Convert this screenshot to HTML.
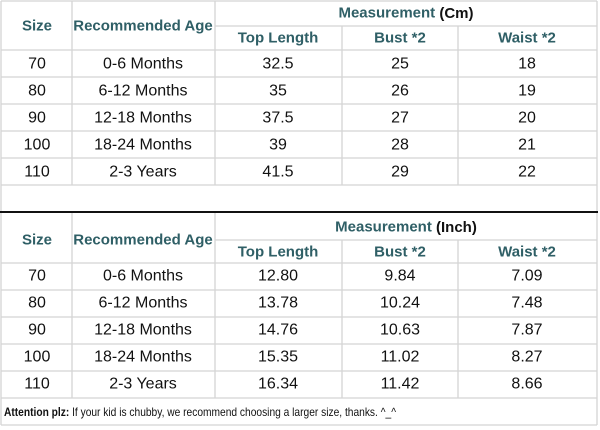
<!DOCTYPE html>
<html><head><style>
html,body{margin:0;padding:0;background:#fff;}
svg{display:block;}
text{font-family:"Liberation Sans",sans-serif;font-size:16px;text-anchor:middle;dominant-baseline:central;fill:#111;}
.h{fill:#2f5f66;font-weight:bold;font-size:15px;}
</style></head><body>
<svg width="600" height="430" viewBox="0 0 600 430">
<g stroke="#d4d4d4" stroke-width="1.3" fill="none">
<line x1="1" y1="1" x2="597" y2="1"/>
<line x1="1" y1="1" x2="1" y2="212"/>
<line x1="597" y1="1" x2="597" y2="212"/>
<line x1="72" y1="1" x2="72" y2="185"/>
<line x1="215" y1="1" x2="215" y2="185"/>
<line x1="342" y1="26" x2="342" y2="185"/>
<line x1="458" y1="26" x2="458" y2="185"/>
<line x1="215" y1="26" x2="597" y2="26"/>
<line x1="1" y1="50" x2="597" y2="50"/>
<line x1="1" y1="77" x2="597" y2="77"/>
<line x1="1" y1="104" x2="597" y2="104"/>
<line x1="1" y1="131" x2="597" y2="131"/>
<line x1="1" y1="158" x2="597" y2="158"/>
<line x1="1" y1="185" x2="597" y2="185"/>
<line x1="1" y1="212" x2="1" y2="425"/>
<line x1="597" y1="212" x2="597" y2="425"/>
<line x1="72" y1="212" x2="72" y2="398"/>
<line x1="215" y1="212" x2="215" y2="398"/>
<line x1="342" y1="240" x2="342" y2="398"/>
<line x1="458" y1="240" x2="458" y2="398"/>
<line x1="215" y1="240" x2="597" y2="240"/>
<line x1="1" y1="263" x2="597" y2="263"/>
<line x1="1" y1="290" x2="597" y2="290"/>
<line x1="1" y1="317" x2="597" y2="317"/>
<line x1="1" y1="344" x2="597" y2="344"/>
<line x1="1" y1="371" x2="597" y2="371"/>
<line x1="1" y1="398" x2="597" y2="398"/>
<line x1="1" y1="425" x2="597" y2="425"/>
</g>
<line x1="0" y1="212" x2="598" y2="212" stroke="#111" stroke-width="2"/>

<text class="h" x="37" y="26">Size</text>
<text class="h" x="143" y="26">Recommended Age</text>
<text class="h" x="406" y="13">Measurement <tspan fill="#111">(Cm)</tspan></text>
<text class="h" x="278" y="38">Top Length</text>
<text class="h" x="400" y="38">Bust *2</text>
<text class="h" x="527" y="38">Waist *2</text>

<text x="37" y="64">70</text><text x="143" y="64">0-6 Months</text><text x="278" y="64">32.5</text><text x="400" y="64">25</text><text x="527" y="64">18</text>
<text x="37" y="91">80</text><text x="143" y="91">6-12 Months</text><text x="278" y="91">35</text><text x="400" y="91">26</text><text x="527" y="91">19</text>
<text x="37" y="118">90</text><text x="143" y="118">12-18 Months</text><text x="278" y="118">37.5</text><text x="400" y="118">27</text><text x="527" y="118">20</text>
<text x="37" y="145">100</text><text x="143" y="145">18-24 Months</text><text x="278" y="145">39</text><text x="400" y="145">28</text><text x="527" y="145">21</text>
<text x="37" y="172">110</text><text x="143" y="172">2-3 Years</text><text x="278" y="172">41.5</text><text x="400" y="172">29</text><text x="527" y="172">22</text>

<text class="h" x="37" y="240">Size</text>
<text class="h" x="143" y="240">Recommended Age</text>
<text class="h" x="406" y="227">Measurement <tspan fill="#111">(Inch)</tspan></text>
<text class="h" x="278" y="252">Top Length</text>
<text class="h" x="400" y="252">Bust *2</text>
<text class="h" x="527" y="252">Waist *2</text>

<text x="37" y="276">70</text><text x="143" y="276">0-6 Months</text><text x="278" y="276">12.80</text><text x="400" y="276">9.84</text><text x="527" y="276">7.09</text>
<text x="37" y="303">80</text><text x="143" y="303">6-12 Months</text><text x="278" y="303">13.78</text><text x="400" y="303">10.24</text><text x="527" y="303">7.48</text>
<text x="37" y="330">90</text><text x="143" y="330">12-18 Months</text><text x="278" y="330">14.76</text><text x="400" y="330">10.63</text><text x="527" y="330">7.87</text>
<text x="37" y="357">100</text><text x="143" y="357">18-24 Months</text><text x="278" y="357">15.35</text><text x="400" y="357">11.02</text><text x="527" y="357">8.27</text>
<text x="37" y="384">110</text><text x="143" y="384">2-3 Years</text><text x="278" y="384">16.34</text><text x="400" y="384">11.42</text><text x="527" y="384">8.66</text>

<text x="4" y="412" textLength="392" lengthAdjust="spacingAndGlyphs" style="text-anchor:start;font-size:12px;"><tspan font-weight="bold">Attention plz:</tspan> If your kid is chubby, we recommend choosing a larger size, thanks. ^_^</text>
</svg>
</body></html>
